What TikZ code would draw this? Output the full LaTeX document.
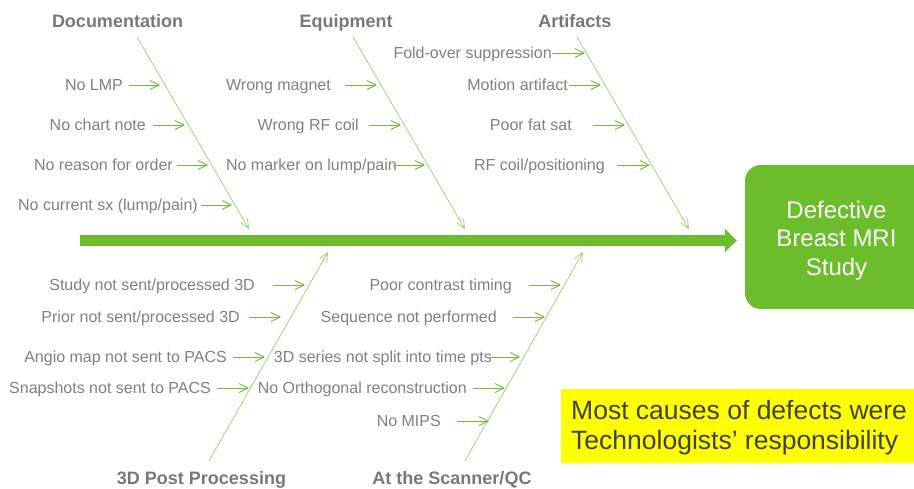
\documentclass[tikz,border=0pt]{standalone}
\usepackage{fontspec}
\setmainfont{Liberation Sans}
\usetikzlibrary{arrows.meta}
\definecolor{grn}{RGB}{107,189,43}
\definecolor{bonec}{RGB}{150,210,100}
\definecolor{arrc}{RGB}{112,190,60}
\definecolor{txtg}{RGB}{128,128,128}
\definecolor{ttlg}{RGB}{120,120,120}
\definecolor{ylw}{RGB}{255,255,0}
\definecolor{darkt}{RGB}{64,64,64}
\begin{document}
\begin{tikzpicture}[x=1pt,y=-1pt,
  lbl/.style={inner sep=0pt, anchor=base east, text=txtg, font=\fontsize{16}{19}\selectfont},
  ttl/.style={inner sep=0pt, anchor=base, text=ttlg, font=\fontsize{18}{21}\selectfont\bfseries},
  cause/.style={draw=arrc, line width=0.9pt, -{Straight Barb[length=9pt,width=9pt]}},
  bone/.style={draw=bonec, line width=0.7pt, -{Straight Barb[length=9pt,width=8pt]}},
  spine/.style={draw=grn, line width=10.5pt, -{Triangle[length=12pt,width=23pt]}},
  effectbox/.style={fill=grn, rounded corners=16pt, minimum width=184pt, minimum height=144pt, inner sep=0pt},
  efftext/.style={inner sep=0pt, text=white, align=center, font=\fontsize{24}{28.5}\selectfont},
  notebox/.style={fill=ylw, inner sep=0pt, minimum width=360pt, minimum height=74pt},
  notetext/.style={inner sep=0pt, anchor=north west, align=left, text=darkt, font=\fontsize{26.5}{30}\selectfont}
]
\useasboundingbox (0,0) rectangle (914,488);

% effect
\node[effectbox] (eff) at (837,237) {};
\node[efftext] (efft) at (836.5,240.5) {Defective\\Breast MRI\\Study};

% spine
\coordinate (sp) at (80,240.5);
\draw[spine] (sp) -- ([xshift=-8pt]sp -| eff.west);

% titles
\node[ttl] (tdoc) at (117.5,27.5) {Documentation};
\node[ttl] (tequ) at (346,27.5) {Equipment};
\node[ttl] (tart) at (575,27.5) {Artifacts};
\node[ttl] (tpost) at (201.5,484.5) {3D Post Processing};
\node[ttl] (tscan) at (452,484.5) {At the Scanner/QC};

% bones
\coordinate (b1s) at (137,37);  \coordinate (b1e) at (249,229);
\coordinate (b2s) at (353,37);  \coordinate (b2e) at (465,229);
\coordinate (b3s) at (577,37);  \coordinate (b3e) at (689,229);
\coordinate (b4s) at (209,461); \coordinate (b4e) at (328,252);
\coordinate (b5s) at (465,461); \coordinate (b5e) at (583,252);
\foreach \k in {1,...,5} {\draw[bone] (b\k s) -- (b\k e);}

% causes
\foreach \txt/\tx/\y/\ax/\bx [count=\i] in {
  No LMP/123/85/129/160,
  No chart note/146/125/153/185,
  No reason for order/173/165/177/208,
  {No current sx (lump/pain)}/198/205/201/232,
  Wrong magnet/331/85/345/377,
  Wrong RF coil/359/125/369/401,
  {No marker on lump/pain}/397/165/393/425,
  Fold-over suppression/552/53/552/585,
  Motion artifact/568/85/569/601,
  Poor fat sat/572/125/593/625,
  {RF coil/positioning}/605/165/617/650,
  {Study not sent/processed 3D}/255/285/273/305,
  {Prior not sent/processed 3D}/240/317/249/281,
  Angio map not sent to PACS/227/357/233/265,
  Snapshots not sent to PACS/211/388/217/249,
  Poor contrast timing/512/285/529/561,
  Sequence not performed/497/317/513/545,
  3D series not split into time pts/492/357/490/520,
  No Orthogonal reconstruction/467/388/473/505,
  No MIPS/441/421/457/489} {
  \node[lbl] (c\i) at (\tx,{\y+5.7}) {\txt};
  \coordinate (cs\i) at (\ax,\y);
  \coordinate (ce\i) at (\bx,\y);
  \draw[cause] (cs\i) -- (ce\i);
}

% note
\node[notebox] (note) at (741,426) {};
\node[notetext] (notet) at (571,399.7) {Most causes of defects were\\Technologists’ responsibility};
\end{tikzpicture}
\end{document}
